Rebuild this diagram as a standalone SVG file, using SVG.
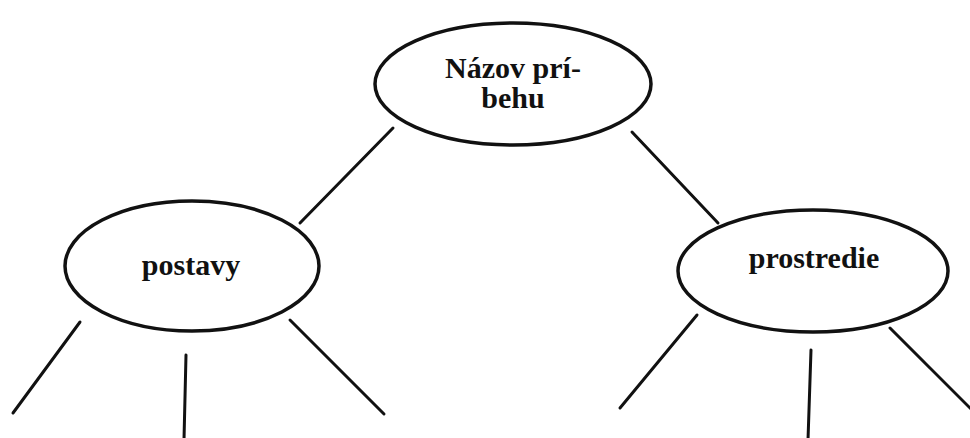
<svg xmlns="http://www.w3.org/2000/svg" width="970" height="438" viewBox="0 0 970 438">
<style>
.node ellipse{fill:#fff;stroke:#111;stroke-width:3.5}
.node text{font-family:"Liberation Serif","Times New Roman",serif;font-weight:bold;font-size:30px;fill:#111;text-anchor:middle}
.conn line{stroke:#111;stroke-width:3;stroke-linecap:round}
</style>
<rect width="970" height="438" fill="#fff"/>
<g id="connectors" class="conn">
<line x1="393" y1="128" x2="300" y2="223"/>
<line x1="632" y1="132" x2="718" y2="223"/>
<line x1="80" y1="322" x2="13" y2="413"/>
<line x1="186" y1="355" x2="184" y2="440"/>
<line x1="290" y1="320" x2="384" y2="414"/>
<line x1="697" y1="315" x2="620" y2="408"/>
<line x1="811" y1="350" x2="808" y2="440"/>
<line x1="890" y1="328" x2="974" y2="412"/>
</g>
<g id="node-nazov" class="node">
<ellipse cx="513" cy="84" rx="138" ry="61"/>
<text x="513" y="78">Názov prí-</text>
<text x="513" y="108">behu</text>
</g>
<g id="node-postavy" class="node">
<ellipse cx="192" cy="266" rx="127" ry="65"/>
<text x="191" y="275">postavy</text>
</g>
<g id="node-prostredie" class="node">
<ellipse cx="813" cy="271" rx="135" ry="61"/>
<text x="814" y="268">prostredie</text>
</g>
</svg>
